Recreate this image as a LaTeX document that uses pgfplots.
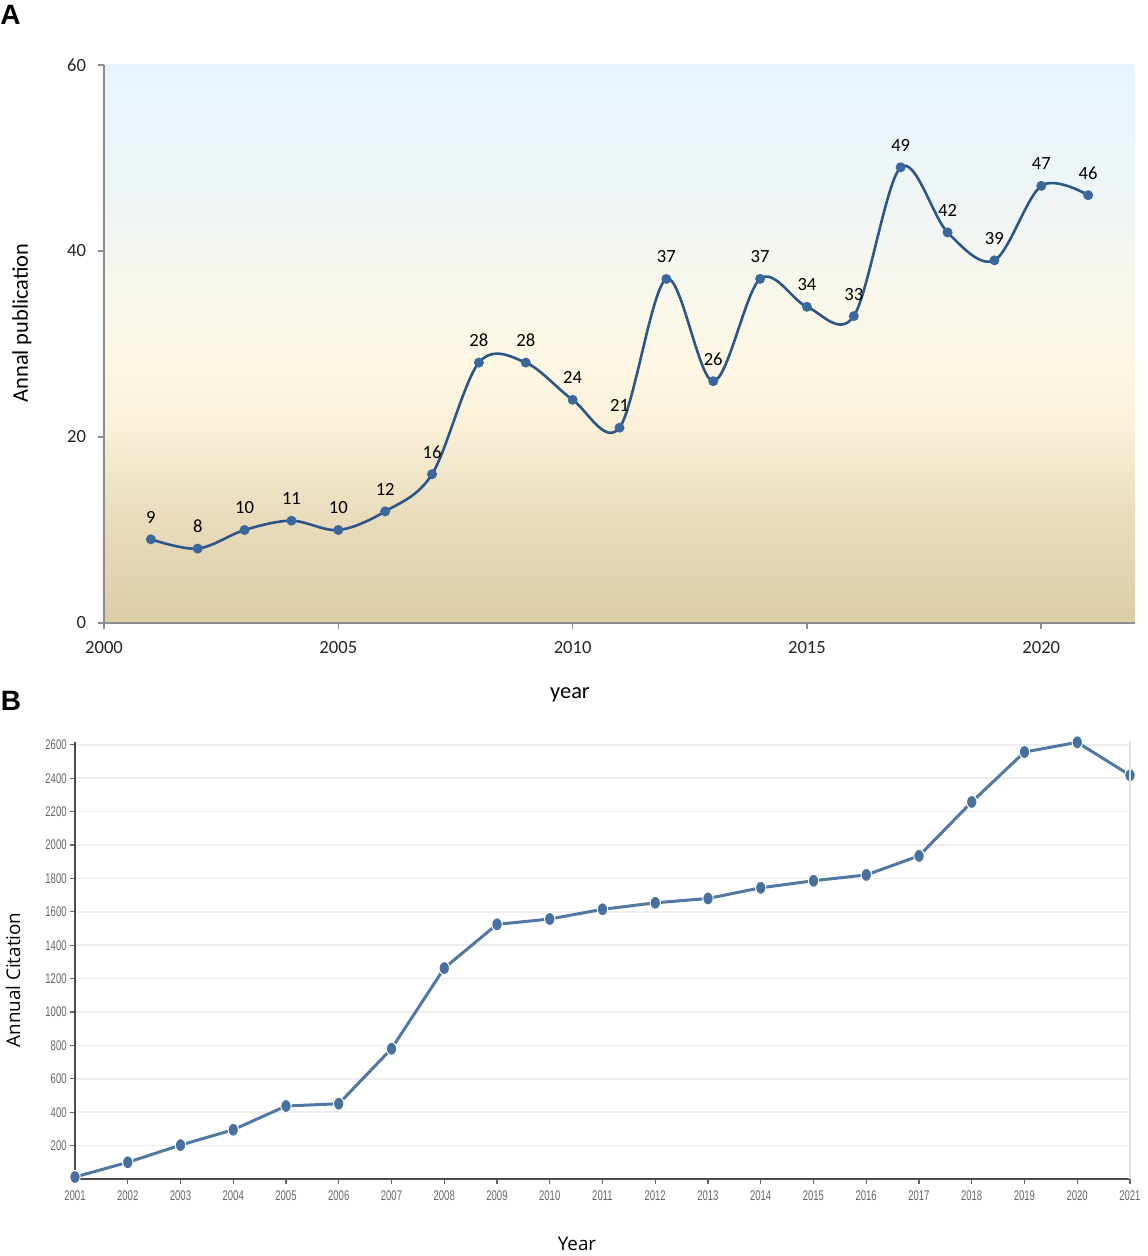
\documentclass[border=0pt]{standalone}
\usepackage{fontspec}
\usepackage{pgfplots}
\pgfplotsset{compat=1.18}
\setmainfont{Carlito}
\newfontfamily\carlito{Carlito}
\newfontfamily\opensans{Open Sans}
\newfontfamily\narrow[FakeStretch=0.68]{Liberation Sans}
\newfontfamily\arial{Liberation Sans}
\definecolor{lineA}{HTML}{2C5688}
\definecolor{markA}{HTML}{3A679C}
\definecolor{lineB}{HTML}{5078A2}
\definecolor{markB}{HTML}{46709E}
\definecolor{bgA}{HTML}{DCCDA6}
\definecolor{bgB}{HTML}{EADDBE}
\definecolor{bgC}{HTML}{F9F0D6}
\definecolor{bgD}{HTML}{FDF7E3}
\definecolor{bgE}{HTML}{F8F7EC}
\definecolor{bgF}{HTML}{EFF5F5}
\definecolor{bgG}{HTML}{E8F4FD}
\pgfdeclareverticalshading{bgshadeA}{100bp}{color(0bp)=(bgA); color(25bp)=(bgA); color(35bp)=(bgB); color(42.5bp)=(bgC); color(48bp)=(bgD); color(55bp)=(bgE); color(62.5bp)=(bgF); color(75bp)=(bgG); color(100bp)=(bgG)}
\begin{document}
\begin{tikzpicture}
\path[use as bounding box] (0,0) rectangle (573.5pt,-628pt);
% Panel letters
\node[font=\arial\bfseries\fontsize{14}{16}\selectfont, anchor=center, inner sep=0pt] at (5.3pt,-7.3pt) {A};
\node[font=\arial\bfseries\fontsize{14}{16}\selectfont, anchor=center, inner sep=0pt] at (5.5pt,-350.3pt) {B};
% Panel A
\begin{axis}[
  at={(52pt,-311.5pt)}, anchor=south west,
  scale only axis, width=515.5pt, height=279pt,
  xmin=2000, xmax=2022, ymin=0, ymax=60,
  xtick={2000,2005,2010,2015,2020}, ytick={0,20,40,60},
  axis x line*=bottom, axis y line*=left,
  axis line style={draw=black!45, line width=0.8pt, -},
  tick style={draw=black!45, line width=0.8pt},
  tick align=outside, major tick length=3pt,
  /pgf/number format/assume math mode=true,
  /pgf/number format/1000 sep={},
  ticklabel style={font=\carlito\fontsize{9.3}{11}\selectfont, text=black!85},
  xticklabel style={yshift=-2.5pt},
  yticklabel style={xshift=-2.5pt},
  axis background/.style={shading=bgshadeA},
  clip=false,
  nodes near coords,
  nodes near coords style={font=\carlito\fontsize{9.3}{11}\selectfont, text=black, anchor=center, yshift=11pt},
]
\addplot[smooth, tension=0.55, color=lineA, line width=1.3pt, mark=*, mark size=1.8pt, mark options={fill=markA, draw=markA}] coordinates {
(2001,9) (2002,8) (2003,10) (2004,11) (2005,10) (2006,12) (2007,16) (2008,28) (2009,28) (2010,24) (2011,21) (2012,37) (2013,26) (2014,37) (2015,34) (2016,33) (2017,49) (2018,42) (2019,39) (2020,47) (2021,46)
};
\end{axis}
\node[font=\carlito\fontsize{11.2}{13}\selectfont] at (285pt,-347.5pt) {year};
\node[font=\carlito\fontsize{11.2}{13}\selectfont, rotate=90] at (11pt,-161.5pt) {Annal publication};
% Panel B
\begin{axis}[
  at={(37.5pt,-589.5pt)}, anchor=south west,
  scale only axis, width=527.5pt, height=218.75pt,
  xmin=2001, xmax=2021, ymin=0, ymax=2620,
  xtick={2001,2002,...,2021}, ytick={200,400,...,2600},
  axis x line*=bottom, axis y line*=left,
  axis line style={draw=black!70, line width=1pt, -},
  tick style={draw=black!60, line width=0.6pt},
  tick align=outside, major tick length=2.5pt,
  ymajorgrids, grid style={draw=black!7, line width=0.8pt},
  /pgf/number format/assume math mode=true,
  /pgf/number format/1000 sep={},
  ticklabel style={font=\narrow\fontsize{7}{8}\selectfont, text=black!60},
  yticklabel style={inner sep=1.5pt},
  clip=false,
  after end axis/.code={\draw[black!12, line width=0.8pt] (rel axis cs:1,0) -- (rel axis cs:1,1);},
]
\addplot[color=lineB, line width=1.5pt, mark=*, mark size=2.6pt, mark options={fill=markB, draw=white, line width=0.5pt, yscale=1.25}] coordinates {
(2001,12) (2002,100) (2003,203) (2004,295) (2005,437) (2006,451) (2007,780) (2008,1263) (2009,1525) (2010,1557) (2011,1615) (2012,1654) (2013,1680) (2014,1744) (2015,1786) (2016,1821) (2017,1935) (2018,2258) (2019,2557) (2020,2615) (2021,2418)
};
\end{axis}
\node[font=\opensans\fontsize{9.4}{11}\selectfont] at (288.5pt,-622pt) {Year};
\node[font=\opensans\fontsize{9.4}{11}\selectfont, rotate=90] at (6.5pt,-490pt) {Annual Citation};
\end{tikzpicture}
\end{document}
